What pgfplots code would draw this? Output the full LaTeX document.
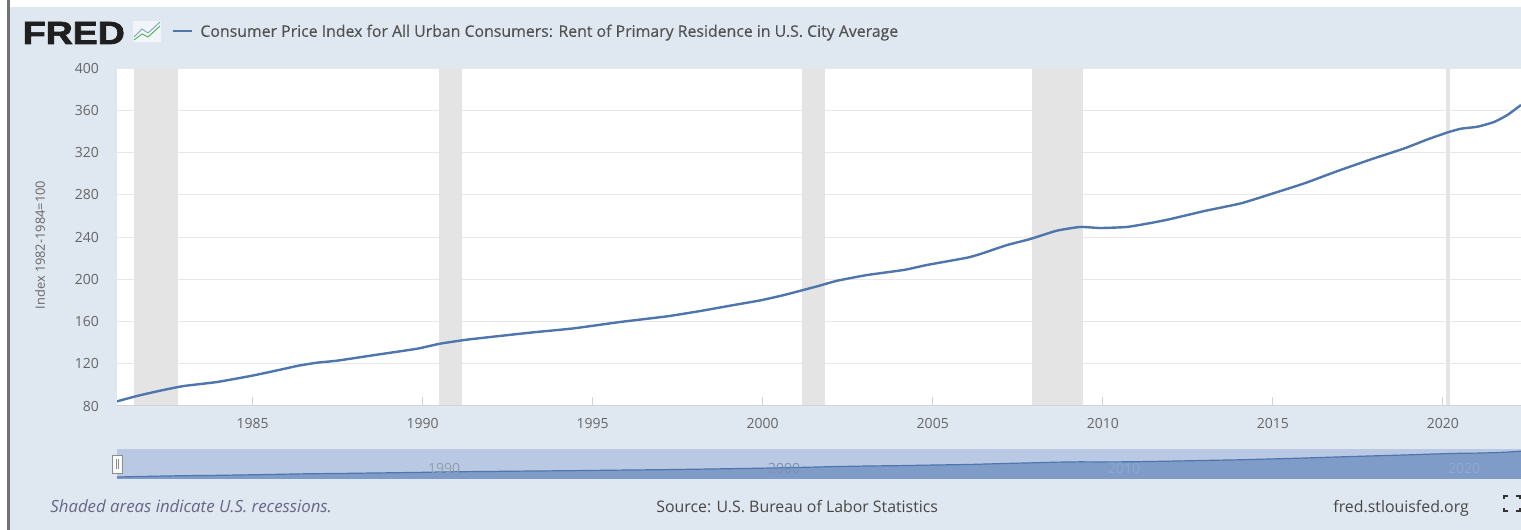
\documentclass[border=0pt]{standalone}
\usepackage{fontspec}
\setmainfont{Open Sans}
\newfontfamily\logofont[FakeBold=2.2]{Liberation Sans Bold}
\newfontfamily\titlefont[FakeBold=0.25]{Open Sans}
\usepackage{pgfplots}
\usepackage{pgfplotstable}
\pgfplotsset{compat=1.18}
\definecolor{bgc}{HTML}{DFE7F0}
\definecolor{linec}{HTML}{4F76AC}
\definecolor{gridc}{HTML}{E8E8E8}
\definecolor{recc}{HTML}{E4E4E4}
\definecolor{txtc}{HTML}{666666}
\definecolor{tickc}{HTML}{CAD3DE}
\definecolor{navtop}{HTML}{B9C9E3}
\definecolor{navarea}{HTML}{7F9CC8}
\definecolor{navline}{HTML}{4F76AC}
\pgfplotstableread{
x y
1981.01 84.4
1981.60 89.5
1982.28 94.5
1982.97 98.9
1983.95 102.7
1985.03 109
1985.90 115
1986.35 118.2
1986.89 121
1987.48 122.9
1988.66 128.6
1989.83 134.2
1990.51 139
1991.30 142.8
1992.27 146.3
1993.27 149.8
1994.44 153.5
1995.80 159.5
1997.19 164.9
1998.16 169.9
1999.15 175.6
1999.93 180
2000.62 185
2001.60 193.3
2002.19 198.6
2003.07 204
2004.15 208.8
2004.83 213.5
2006.01 220.4
2006.40 223.9
2007.19 232.4
2007.87 238.1
2008.65 246
2009.34 249.5
2009.93 248.5
2010.71 249.5
2011.40 253.2
2011.95 256.7
2012.99 264.6
2014.07 271.9
2014.95 280.7
2015.93 290.8
2016.91 302.5
2017.89 313.5
2018.87 323.9
2019.56 332.5
2020.15 339.1
2020.53 342.5
2021.02 344.4
2021.51 348.9
2021.90 355.5
2022.30 365
}\rent
\begin{document}
\begin{tikzpicture}[x=1pt,y=1pt]
\fill[white] (0,0) rectangle (760.5,265);
\fill[bgc] (5,0) rectangle (760.5,261.5);
\fill[black!55] (3.5,0) rectangle (5.2,265);
% logo
\node[anchor=base west,inner sep=0,text=black!88,font=\fontsize{16}{16}\logofont,xscale=1.17] at (11.2,243) {FRED};
\fill[white!55!bgc] (66.5,244) rectangle (80.5,254.5);
\draw[green!40!gray,line width=.45pt] (67,245) -- (71,248) -- (74,246.5) -- (80,252);
\draw[linec!70,line width=.45pt] (67,246.5) -- (71,250.5) -- (74,248.5) -- (80,254);
% legend
\draw[linec,line width=0.9pt] (86.5,249.5) -- (96,249.5);
\node[anchor=base west,inner sep=0,text=black!68,font=\fontsize{7.92}{9}\titlefont] at (100,246.6) {Consumer Price Index for All Urban Consumers: Rent of Primary Residence in U.S. City Average};
% main axis
\begin{axis}[
 at={(58.5pt,62pt)},anchor=south west,scale only axis,width=702pt,height=169pt,
 xmin=1981.01,xmax=2022.3,ymin=80,ymax=400,
 axis background/.style={fill=white},
 axis line style={draw=none},
 axis x line*=bottom,axis y line*=left,
 xtick={1985,1990,1995,2000,2005,2010,2015,2020},
 ytick={80,120,160,200,240,280,320,360,400},
 ymajorgrids,grid style={gridc,line width=.4pt},
 xtick style={draw=tickc,line width=.4pt},
 major tick length=4.5pt,
 ytick style={draw=none},
 tick label style={text=txtc,font=\fontsize{7}{8}\selectfont},
 /pgf/number format/assume math mode=true,
 /pgf/number format/1000 sep={},
 xticklabel style={yshift=-2.5pt},
 yticklabel style={xshift=-5.5pt},
 ylabel={Index 1982-1984=100},
 every axis y label/.style={rotate=90,anchor=center,at={(axis description cs:-0.0548,0.476)},text=txtc,font=\fontsize{6.4}{8}\selectfont},
 clip=true,
]
\addplot[fill=recc,draw=none] coordinates {(1981.51,80)(1981.51,400)(1982.80,400)(1982.80,80)};
\addplot[fill=recc,draw=none] coordinates {(1990.48,80)(1990.48,400)(1991.16,400)(1991.16,80)};
\addplot[fill=recc,draw=none] coordinates {(2001.16,80)(2001.16,400)(2001.84,400)(2001.84,80)};
\addplot[fill=recc,draw=none] coordinates {(2007.92,80)(2007.92,400)(2009.42,400)(2009.42,80)};
\addplot[fill=recc,draw=none] coordinates {(2020.08,80)(2020.08,400)(2020.22,400)(2020.22,80)};
\addplot[linec,line width=1.2pt,line join=round,smooth,tension=.3] table[x=x,y=y] {\rent};
\end{axis}
\draw[tickc,line width=.5pt] (58.5,62) -- (760.5,62);
% navigator
\begin{axis}[
 at={(58.5pt,25.5pt)},anchor=south west,scale only axis,width=702pt,height=15pt,
 xmin=1981.01,xmax=2022.3,ymin=63,ymax=389,
 axis background/.style={fill=navtop},
 axis line style={draw=none},
 xtick=\empty,ytick=\empty,
 clip=true,
]
\addplot[fill=navarea,draw=none] table[x=x,y=y] {\rent} \closedcycle;
\addplot[draw=navline,line width=.6pt] table[x=x,y=y] {\rent};
\node[text=txtc!45!navtop,font=\fontsize{7}{8}\selectfont] at (axis cs:1990.63,175) {1990};
\node[text=txtc!20!navarea,font=\fontsize{7}{8}\selectfont] at (axis cs:2000.63,175) {2000};
\node[text=white!12!navarea,font=\fontsize{7}{8}\selectfont] at (axis cs:2010.63,175) {2010};
\node[text=white!12!navarea,font=\fontsize{7}{8}\selectfont] at (axis cs:2020.63,175) {2020};
\end{axis}
\fill[white!90!navtop,draw=black!45,line width=.4pt] (56,28.5) rectangle (61,37.5);
\draw[black!45,line width=.3pt] (58,30.5) -- (58,35.5) (59,30.5) -- (59,35.5);
% footer
\node[anchor=base west,inner sep=0,text=blue!20!black!60,font=\fontsize{8.4}{9}\selectfont\itshape] at (25,8.6) {Shaded areas indicate U.S. recessions.};
\node[anchor=base west,inner sep=0,text=black!72,font=\fontsize{7.93}{9}\selectfont] at (328,8.6) {Source: U.S. Bureau of Labor Statistics};
\node[anchor=base west,inner sep=0,text=black!72,font=\fontsize{7.94}{9}\selectfont] at (666.5,8.6) {fred.stlouisfed.org};
\draw[black!80,line width=.7pt] (752,15.5) -- (752,17) -- (754,17) (752,11) -- (752,9.5) -- (754,9.5) (758,17) -- (760,17) -- (760,15.5) (758,9.5) -- (760,9.5) -- (760,11);
\pgfresetboundingbox
\path (0,0) rectangle (760.5,265);
\end{tikzpicture}
\end{document}
